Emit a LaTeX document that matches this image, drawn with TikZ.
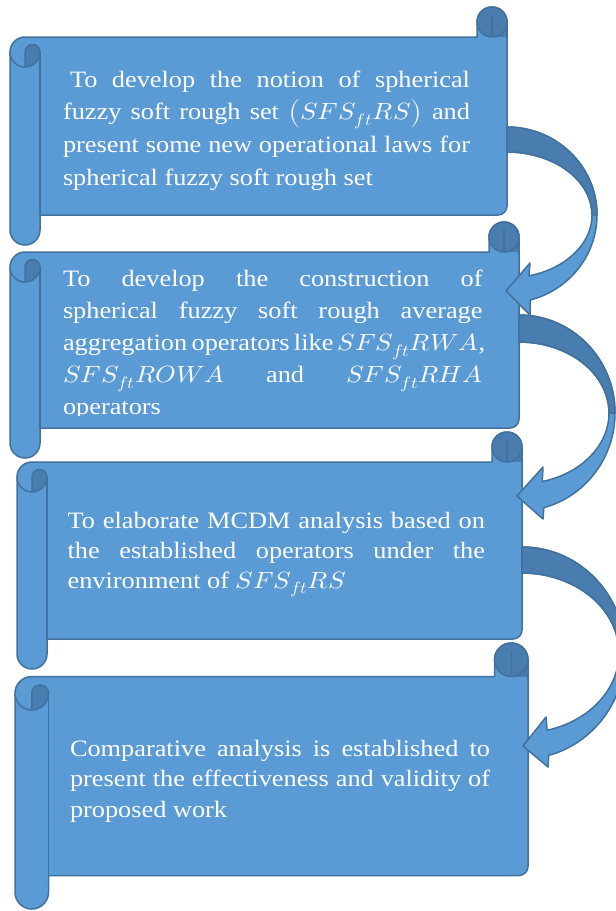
\documentclass[tikz,border=0pt]{standalone}
\usepackage{fontspec}
\setmainfont{Liberation Serif}
\usepackage{unicode-math}
\setmathfont{Latin Modern Math}
\usepackage{graphicx}
\definecolor{scfill}{HTML}{5B9BD5}
\definecolor{scdark}{HTML}{497DB0}
\definecolor{scline}{HTML}{41719C}
\tikzset{
  scrolledge/.style={draw=scline, line width=1.5pt, line join=round},
  scrollbody/.style={fill=scfill},
  scrolldark/.style={fill=scdark},
  bodytext/.style={anchor=base west, inner sep=0pt, outer sep=0pt, text=white},
}
% l t r b ch  (pixel units, y measured downward)
\newcommand\scrollshape[5]{%
  \pgfmathsetmacro\skH{#5/2}%
  \pgfmathsetmacro\skQ{#5/4}%
  \pgfmathsetmacro\skT{#2+#5}%
  \pgfmathsetmacro\skB{#4-#5}%
  \filldraw[scrollbody,scrolledge] (#1,{-(\skT+\skH)}) -- (#1,{-(#4-\skH)})
    arc[start angle=180,end angle=360,radius=\skH] -- ({#1+#5},{-\skB})
    -- ({#3-9},{-\skB}) arc[start angle=270,end angle=360,radius=9]
    -- (#3,{-(#2+\skH)}) arc[start angle=0,end angle=180,radius=\skH]
    -- ({#3-#5},{-\skT}) -- ({#1+\skH},{-\skT})
    arc[start angle=90,end angle=180,radius=\skH] -- cycle;
  % top-right roll
  \fill[scrolldark] ({#3-\skH},{-(#2+\skH)}) rectangle (#3,{-\skT});
  \filldraw[scrolldark,scrolledge] ({#3-\skH},{-(#2+\skH)}) circle[radius=\skH];
  \draw[scrolledge] ({#3-\skH},{-(#2+\skQ)}) -- ({#3-\skH},{-\skT});
  \draw[scrolledge] (#3,{-(#2+\skH)}) -- (#3,{-\skT-2});
  % top-left curl
  \filldraw[scrolldark,scrolledge] ({#1+\skH},{-(\skT+#5)}) -- ({#1+\skH},{-(\skT+\skH)})
    arc[start angle=180,end angle=0,radius=\skQ]
    arc[start angle=0,end angle=-90,radius=\skH] -- cycle;
  \draw[scrolledge] (#1,{-(\skT+\skH)}) arc[start angle=180,end angle=270,radius=\skH];
  \draw[scrolledge] ({#1+#5},{-(\skT+\skH)}) -- ({#1+#5},{-\skB});
}
% x0 yc rx1 ry1 rx2 ry2 head
\newcommand\curlarrow[7]{%
  \filldraw[scrollbody,scrolledge] (#1,{-(#2-#4)})
    arc[start angle=90,end angle=-75,x radius=#3,y radius=#4] -- #7
    -- ({#1+#5*cos(-75)},{-#2+#6*sin(-75)})
    arc[start angle=-75,end angle=90,x radius=#5,y radius=#6] -- cycle;
  \filldraw[scrolldark,scrolledge] (#1,{-(#2-#4)})
    arc[start angle=90,end angle=0,x radius=#3,y radius=#4] -- ({#1+#5},{-#2})
    arc[start angle=0,end angle=90,x radius=#5,y radius=#6] -- cycle;
}
\begin{document}
\begin{tikzpicture}[x=1pt,y=1pt]
\useasboundingbox (0,0) rectangle (616,-911);
\fill[white] (0,0) rectangle (616,-911);
\clip (0,0) rectangle (616,-911);

\scrollshape{10}{7}{507}{245}{30}
\scrollshape{10}{222}{519}{458}{30}
\scrollshape{17}{432}{522}{669}{30}
\scrollshape{15}{643}{528}{909}{33.5}

\node[bodytext, font=\fontsize{23.5}{32.7}\selectfont] (t1) at (63,-87)
 {\scalebox{1.12}[1]{\parbox[t]{363.4pt}{%
 \hspace*{6.25pt}\makebox[357.15pt][s]{To develop the notion of spherical}\\
 \makebox[363.4pt][s]{fuzzy soft rough set $\left(SFS_{ft}RS\right)$ and}\\
 \makebox[363.4pt][s]{present some new operational laws for}\\
 spherical fuzzy soft rough set}}};

\begin{scope}
\clip (0,-250) rectangle (616,-415.5);
\node[bodytext, font=\fontsize{23.5}{32.2}\selectfont] (t2) at (63,-286)
 {\scalebox{1.12}[1]{\parbox[t]{374.6pt}{%
 \makebox[374.6pt][s]{To develop the construction of}\\
 \makebox[374.6pt][s]{spherical fuzzy soft rough average}\\
 \makebox[374.6pt][s]{aggregation operators like $SFS_{ft}RWA$,}\\
 \makebox[374.6pt][s]{$SFS_{ft}ROWA$ and $SFS_{ft}RHA$}\\
 operators}}};
\end{scope}

\node[bodytext, font=\fontsize{23.5}{30}\selectfont] (t3) at (67.6,-528)
 {\scalebox{1.12}[1]{\parbox[t]{372.7pt}{%
 \makebox[372.7pt][s]{To elaborate MCDM analysis based on}\\
 \makebox[372.7pt][s]{the established operators under the}\\
 environment of $SFS_{ft}RS$}}};

\node[bodytext, font=\fontsize{23.5}{30.5}\selectfont] (t4) at (70,-756)
 {\scalebox{1.12}[1]{\parbox[t]{375pt}{%
 \makebox[375pt][s]{Comparative analysis is established to}\\
 \makebox[375pt][s]{present the effectiveness and validity of}\\
 proposed work}}};

\curlarrow{507}{215}{90}{88}{85}{63}{(530,-315) -- (506,-291) -- (530,-263)}
\curlarrow{519}{413}{96}{98}{90}{71}{(543,-519) -- (517,-496) -- (543,-467)}
\curlarrow{522}{653}{103}{106}{97}{80}{(548,-767) -- (523,-746) -- (546,-717)}
\end{tikzpicture}
\end{document}
